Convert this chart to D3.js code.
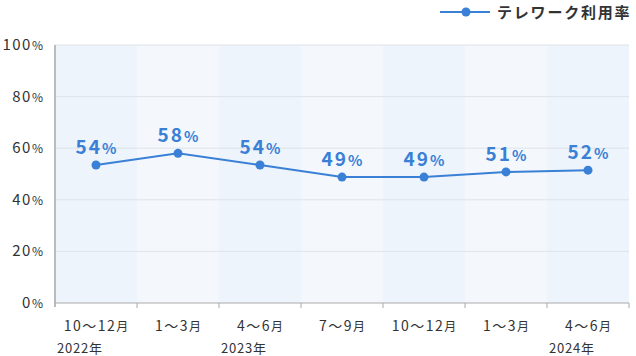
<!DOCTYPE html>
<html><head><meta charset="utf-8">
<script src="https://cdn.jsdelivr.net/npm/d3@7"></script>
<style>body{margin:0;background:#fff}svg{display:block}</style>
</head><body>
<svg id="c" width="636" height="356"></svg>
<script>
const categories = ["10〜12", "1〜3", "4〜6", "7〜9", "10〜12", "1〜3", "4〜6"];
const years = ["2022年", "", "2023年", "", "", "", "2024年"];
const values = [53.5, 58.0, 53.5, 48.8, 48.8, 50.8, 51.5];
const yTicks = [0, 20, 40, 60, 80, 100];
const seriesName = "テレワーク利用率";

const svg = d3.select("#c");
const M = {l: 55, r: 629, t: 45, b: 303};
const FONT = "'Noto Sans CJK JP','Noto Sans',sans-serif";
const blue = "#3a80d6";

const x = d3.scaleBand().domain(d3.range(categories.length)).range([M.l, M.r]);
const y = d3.scaleLinear().domain([0, 100]).range([M.b, M.t]);

// bands
svg.append("g").selectAll("rect").data(categories).join("rect")
  .attr("x", (d, i) => x(i)).attr("y", M.t)
  .attr("width", x.bandwidth()).attr("height", M.b - M.t)
  .attr("fill", (d, i) => i % 2 === 0 ? "#edf4fc" : "#f4f8fd");

// grid
svg.append("g").selectAll("line").data(yTicks.filter(t => t > 0)).join("line")
  .attr("x1", M.l).attr("x2", M.r).attr("y1", d => y(d)).attr("y2", d => y(d))
  .attr("stroke", "#dfe3e8").attr("stroke-width", 1);

// y axis labels
const yl = svg.append("g").selectAll("text").data(yTicks).join("text")
  .attr("x", 43).attr("y", d => y(d) + 5)
  .attr("text-anchor", "end").attr("fill", "#333").style("font-family", FONT);
yl.append("tspan").attr("font-size", 15).attr("letter-spacing", 1.5).text(d => d);
yl.append("tspan").attr("font-size", 12).text("%");

// axes lines
svg.append("line").attr("x1", M.l).attr("x2", M.l).attr("y1", M.t).attr("y2", M.b + 4)
  .attr("stroke", "#bbb").attr("stroke-width", 2);
svg.append("line").attr("x1", M.l).attr("x2", M.r).attr("y1", M.b).attr("y2", M.b)
  .attr("stroke", "#aaa").attr("stroke-width", 1);
svg.append("g").selectAll("line").data(d3.range(1, categories.length + 1)).join("line")
  .attr("x1", i => x(i - 1) + x.bandwidth()).attr("x2", i => x(i - 1) + x.bandwidth())
  .attr("y1", M.b).attr("y2", M.b + 5).attr("stroke", "#aaa");

// x labels
const xl = svg.append("g").selectAll("text").data(categories).join("text")
  .attr("x", (d, i) => x(i) + x.bandwidth() / 2).attr("y", 331)
  .attr("text-anchor", "middle").attr("fill", "#333").style("font-family", FONT);
xl.append("tspan").attr("font-size", 14).attr("letter-spacing", 1.5).text(d => d);
xl.append("tspan").attr("font-size", 12).text("月");

svg.append("g").selectAll("text").data(years).join("text")
  .attr("x", (d, i) => x(i) + 2).attr("y", 353)
  .attr("font-size", 13).attr("letter-spacing", 0.8).attr("fill", "#333").style("font-family", FONT)
  .text(d => d);

// line
const cx = i => x(i) + x.bandwidth() / 2;
svg.append("path").datum(values)
  .attr("d", d3.line().x((d, i) => cx(i)).y(d => y(d)))
  .attr("fill", "none").attr("stroke", blue).attr("stroke-width", 2);
svg.append("g").selectAll("circle").data(values).join("circle")
  .attr("cx", (d, i) => cx(i)).attr("cy", d => y(d)).attr("r", 4.5).attr("fill", blue);

// data labels
const dl = svg.append("g").selectAll("text").data(values).join("text")
  .attr("x", (d, i) => cx(i)).attr("y", d => y(d) - 11)
  .attr("text-anchor", "middle").attr("fill", blue).attr("font-weight", "bold")
  .style("font-family", FONT);
dl.append("tspan").attr("font-size", 19).attr("letter-spacing", 2).text(d => Math.round(d));
dl.append("tspan").attr("font-size", 15).text("%");

// legend
svg.append("line").attr("x1", 440).attr("x2", 490).attr("y1", 12).attr("y2", 12)
  .attr("stroke", blue).attr("stroke-width", 2);
svg.append("circle").attr("cx", 466).attr("cy", 12).attr("r", 4.5).attr("fill", blue);
svg.append("text").attr("x", 497).attr("y", 18).attr("font-size", 15).attr("font-weight", "bold")
  .attr("fill", "#333").attr("letter-spacing", 1.8).style("font-family", FONT).text(seriesName);
</script>
</body></html>
